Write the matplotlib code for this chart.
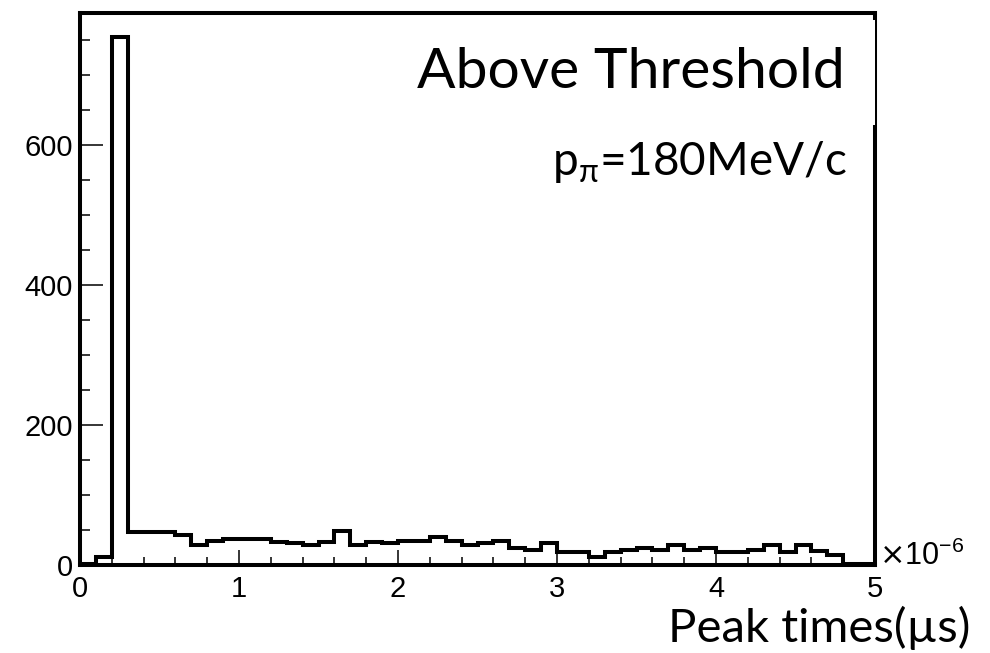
import numpy as np
import matplotlib
matplotlib.use("Agg")
import matplotlib.pyplot as plt
from matplotlib.patches import Rectangle
from matplotlib.ticker import MultipleLocator

# histogram of peak times, 50 bins of 0.1 us between 0 and 5 us
bin_edges = np.linspace(0.0, 5.0, 51)
counts = [2, 12, 754, 47, 47, 47, 43, 29, 34, 37,
          37, 37, 33, 31, 29, 33, 48, 29, 33, 31,
          34, 34, 40, 34, 29, 31, 34, 24, 21, 31,
          19, 19, 12, 19, 21, 24, 21, 29, 21, 24,
          19, 19, 21, 29, 18, 29, 20, 14, 2, 2]
x_ticks = [0, 1, 2, 3, 4, 5]
y_ticks = [0, 200, 400, 600]

W, H = 990, 653


def fx(px):
    return px / W


def fy(py):
    return 1.0 - py / H


def main():
    plt.rcParams.update({"font.family": "Liberation Sans",
                         "mathtext.fontset": "dejavusans"})
    fig = plt.figure(figsize=(W / 100, H / 100), dpi=100)
    ax = fig.add_axes([fx(80), fy(565), fx(875) - fx(80), fy(13) - fy(565)])

    ax.stairs(counts, bin_edges, baseline=0, color="black", linewidth=2.9)
    ax.set_xlim(0, 5)
    ax.set_ylim(0, 789)

    for s in ax.spines.values():
        s.set_linewidth(2.9)
    ax.set_xticks(x_ticks)
    ax.set_yticks(y_ticks)
    ax.xaxis.set_minor_locator(MultipleLocator(0.2))
    ax.yaxis.set_minor_locator(MultipleLocator(50))
    ax.tick_params(direction="in", labelsize=21, width=1.1, colors="black")
    ax.tick_params(axis="y", which="major", length=16.5, pad=5)
    ax.tick_params(axis="y", which="minor", length=7.2, width=1.1, direction="in")
    ax.tick_params(axis="x", which="major", length=10.8, pad=7)
    ax.tick_params(axis="x", which="minor", length=5.8, width=1.1, direction="in")

    fig.text(fx(879), fy(565), r"$\times$10$^{\mathregular{-6}}$", fontsize=22,
             ha="left", va="baseline")

    # white box behind the annotation (it clips part of the right frame)
    box = Rectangle((fx(410), fy(125)), fx(875) - fx(410), fy(20) - fy(125),
                    transform=fig.transFigure, facecolor="white",
                    edgecolor="none", zorder=2)
    fig.add_artist(box)

    fig.text(fx(845), fy(88), "Above Threshold", fontsize=41,
             family="Lato", ha="right", va="baseline", zorder=3)
    fig.text(fx(847), fy(175), "p$_{\\mathregular{\u03c0}}$=180MeV/c", fontsize=33,
             family="Lato", ha="right", va="baseline", zorder=3)
    fig.text(fx(970), fy(642), "Peak times(\u00b5s)", fontsize=34,
             family="Lato", ha="right", va="baseline")

    fig.savefig("out.png", dpi=100)
    plt.close(fig)


if __name__ == "__main__":
    main()
